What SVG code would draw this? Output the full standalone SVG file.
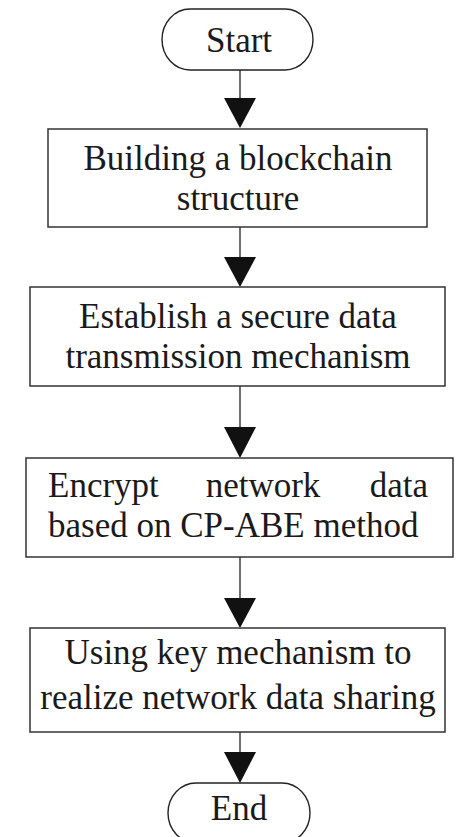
<svg xmlns="http://www.w3.org/2000/svg" width="464" height="837" viewBox="0 0 464 837">
<style>
.box{fill:#fff;stroke:#333;stroke-width:1.5}
.term{fill:#fff;stroke:#222;stroke-width:1.4}
.t{font-family:"Liberation Serif","Times New Roman",serif;font-size:35px;fill:#1a1a1a;text-anchor:middle}
.tl{font-family:"Liberation Serif","Times New Roman",serif;font-size:35px;fill:#1a1a1a}
.ln{stroke:#222;stroke-width:1.3;fill:none}
.hd{fill:#111}
</style>
<rect width="464" height="837" fill="#fff"/>
<g id="connectors">
<line class="ln" x1="240" y1="70" x2="240" y2="110"/>
<polygon class="hd" points="224,98 256,98 240,128"/>
<line class="ln" x1="240" y1="227" x2="240" y2="270"/>
<polygon class="hd" points="224,257 256,257 240,287"/>
<line class="ln" x1="240" y1="386" x2="240" y2="440"/>
<polygon class="hd" points="224,427 256,427 240,458"/>
<line class="ln" x1="240" y1="557" x2="240" y2="610"/>
<polygon class="hd" points="224,598 256,598 240,628"/>
<line class="ln" x1="240" y1="732" x2="240" y2="765"/>
<polygon class="hd" points="224,752 256,752 240,783"/>
</g>
<g id="start">
<path class="term" d="M190,9 L285,9 A28,30.5 0 0 1 285,70 L190,70 A28,30.5 0 0 1 190,9 Z"/>
<text class="t" x="239" y="52">Start</text>
</g>
<g id="n1">
<rect class="box" x="48" y="129" width="379" height="98"/>
<text class="t" x="238" y="170">Building a blockchain</text>
<text class="t" x="238" y="210">structure</text>
</g>
<g id="n2">
<rect class="box" x="30" y="287" width="415" height="99"/>
<text class="t" x="238" y="328">Establish a secure data</text>
<text class="t" x="238" y="368">transmission mechanism</text>
</g>
<g id="n3">
<rect class="box" x="26" y="458" width="427" height="99"/>
<text class="tl" x="48" y="497">Encrypt</text>
<text class="t" x="263" y="497">network</text>
<text class="tl" x="428" y="497" text-anchor="end">data</text>
<text class="tl" x="48" y="537">based on CP-ABE method</text>
</g>
<g id="n4">
<rect class="box" x="30" y="628" width="415" height="104"/>
<text class="t" x="238" y="664">Using key mechanism to</text>
<text class="t" x="238" y="709">realize network data sharing</text>
</g>
<g id="end">
<path class="term" d="M196,783 L282,783 A28,30 0 0 1 282,843 L196,843 A28,30 0 0 1 196,783 Z"/>
<text class="t" x="239" y="820">End</text>
</g>
</svg>
